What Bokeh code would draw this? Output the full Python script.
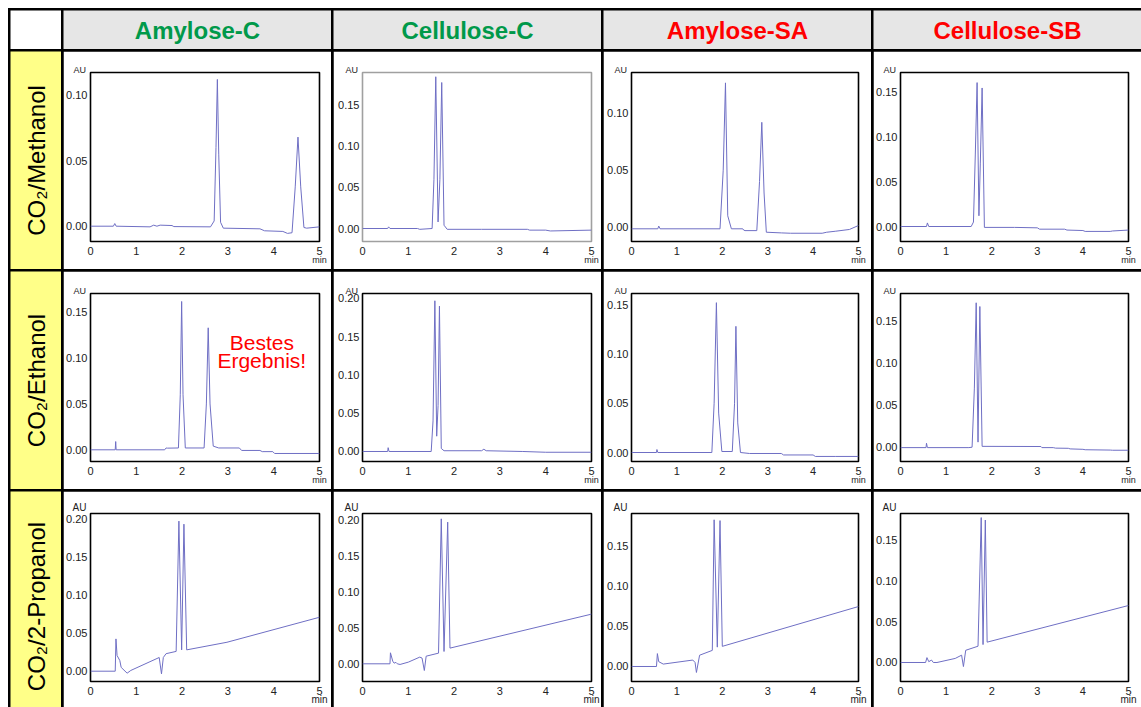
import numpy as np
from bokeh.plotting import figure
from bokeh.models import (Range1d, FixedTicker, PrintfTickFormatter, Label, BoxAnnotation, Spacer,
                          Title, LinearAxis)
from bokeh.layouts import row, column
from bokeh.embed import file_html
from bokeh.resources import INLINE
from bokeh.core.properties import value

# ---------------- data ----------------
column_names = ["Amylose-C", "Cellulose-C", "Amylose-SA", "Cellulose-SB"]
column_colors = ["#00994a", "#00994a", "#ff0000", "#ff0000"]
row_names = ["CO\u2082/Methanol", "CO\u2082/Ethanol", "CO\u2082/2-Propanol"]

x_ticks = [0, 1, 2, 3, 4, 5]

# row 0: CO2/Methanol
t_amyc_meoh = [0, 0.5, 0.53, 0.56, 1.3, 1.38, 1.45, 1.52, 1.78, 1.82, 2.62, 2.7, 2.74, 2.77, 2.8, 2.84, 2.9,
               3.7, 3.8, 4.2, 4.3, 4.4, 4.47, 4.53, 4.59, 4.66, 4.72, 5.0]
au_amyc_meoh = [0, 0, 0.002, 0, -0.0005, 0.0008, 0, 0.0008, 0.0005, -0.0003, -0.0005, 0.004, 0.06, 0.112, 0.055,
                0.003, -0.0015, -0.002, -0.0035, -0.004, -0.0055, -0.005, 0.03, 0.068, 0.03, -0.001, -0.0015, -0.0005]

t_celc_meoh = [0, 0.55, 0.57, 0.6, 1.2, 1.25, 1.52, 1.56, 1.6, 1.65, 1.69, 1.73, 1.78, 1.85, 2.6, 3.6, 3.65, 4.0, 4.1, 5.0]
au_celc_meoh = [0, 0, 0.002, 0, 0, -0.001, 0, 0.06, 0.185, 0.008, 0.06, 0.178, 0.004, -0.001, -0.001, -0.001,
                -0.002, -0.002, -0.003, -0.002]

t_amysa_meoh = [0, 0.58, 0.6, 0.63, 1.95, 2.02, 2.07, 2.12, 2.2, 2.45, 2.47, 2.5, 2.76, 2.82, 2.87, 2.92, 2.97,
                3.3, 3.5, 4.2, 4.3, 4.5, 4.8, 5.0]
au_amysa_meoh = [-0.0014, -0.0014, 0.001, -0.0014, -0.0014, 0.05, 0.1266, 0.01, -0.0014, -0.0014, -0.0025, -0.003,
                 -0.003, 0.04, 0.092, 0.03, -0.0044, -0.005, -0.0053, -0.0053, -0.0044, -0.0035, -0.002, 0.0015]

t_celsb_meoh = [0, 0.57, 0.59, 0.62, 1.55, 1.6, 1.64, 1.68, 1.72, 1.75, 1.79, 1.84, 2.5, 3.0, 3.05, 3.6, 3.65,
                4.0, 4.05, 4.6, 4.65, 5.0]
au_celsb_meoh = [0, 0, 0.004, 0, 0, 0.005, 0.08, 0.161, 0.012, 0.07, 0.155, -0.001, -0.001, -0.0015, -0.003, -0.003,
                 -0.004, -0.0045, -0.0055, -0.0055, -0.005, -0.004]

# row 1: CO2/Ethanol
t_amyc_etoh = [0, 0.54, 0.55, 0.56, 1.62, 1.65, 1.68, 1.92, 1.96, 1.99, 2.02, 2.07, 2.48, 2.53, 2.57, 2.61, 2.68,
               2.8, 3.25, 3.3, 3.7, 3.75, 3.98, 4.02, 5.0]
au_amyc_etoh = [0, 0, 0.009, 0, 0, 0.002, 0.0018, 0.002, 0.06, 0.1617, 0.06, 0.002, 0.002, 0.05, 0.133, 0.05, 0.004,
                0.002, 0.002, -0.0007, -0.0007, -0.002, -0.002, -0.004, -0.004]

t_celc_etoh = [0, 0.55, 0.56, 0.58, 1.5, 1.54, 1.58, 1.62, 1.65, 1.68, 1.72, 1.78, 2.6, 2.65, 2.7, 3.5, 4.0, 5.0]
au_celc_etoh = [0, 0, 0.005, 0, 0, 0.04, 0.197, 0.02, 0.06, 0.19, 0.004, 0.001, 0.001, 0.003, 0.001, 0.0, -0.001, -0.001]

t_amysa_etoh = [0, 0.55, 0.56, 0.58, 1.77, 1.82, 1.87, 1.92, 1.99, 2.22, 2.27, 2.3, 2.34, 2.4, 2.6, 3.3, 3.35,
                4.0, 4.05, 4.5, 5.0]
au_amysa_etoh = [0, 0, 0.003, 0, 0, 0.05, 0.152, 0.04, 0.001, 0.001, 0.05, 0.128, 0.03, 0.0, -0.001, -0.001,
                 -0.0025, -0.0025, -0.004, -0.004, -0.004]

t_celsb_etoh = [0, 0.56, 0.57, 0.59, 1.5, 1.57, 1.62, 1.66, 1.70, 1.74, 1.79, 3.08, 3.1, 3.35, 3.4, 3.68, 3.72,
                4.0, 4.05, 4.6, 4.65, 5.0]
au_celsb_etoh = [-0.0005, -0.0005, 0.0047, -0.0005, -0.0005, 0.0, 0.07, 0.171, 0.006, 0.1666, 0.001, 0.0008, -0.0005,
                 -0.0005, -0.0011, -0.0013, -0.002, -0.0025, -0.003, -0.0034, -0.0036, -0.0036]

# row 2: CO2/2-Propanol
t_amyc_ipa = [0, 0.54, 0.556, 0.58, 0.64, 0.67, 0.8, 0.88, 1.5, 1.55, 1.59, 1.65, 1.87, 1.93, 1.99, 2.04, 2.1, 2.98, 5.0]
au_amyc_ipa = [0, 0, 0.0424, 0.0206, 0.014, 0.005, -0.0026, 0.001, 0.018, -0.0035, 0.018, 0.023, 0.026, 0.197, 0.028,
               0.193, 0.028, 0.038, 0.0708]

t_celc_ipa = [0, 0.6, 0.61, 0.66, 0.69, 0.73, 0.76, 0.82, 1.0, 1.25, 1.3, 1.35, 1.39, 1.66, 1.72, 1.78, 1.86, 1.91, 5.0]
au_celc_ipa = [0, 0, 0.0153, 0.0037, 0.0009, 0.002, 0.0, -0.0009, 0.0023, 0.0093, 0.008, -0.0093, 0.0106, 0.0148,
               0.2014, 0.0171, 0.1968, 0.0218, 0.069]

t_amysa_ipa = [0, 0.55, 0.57, 0.6, 0.7, 1.35, 1.4, 1.43, 1.5, 1.78, 1.82, 1.89, 1.95, 2.0, 5.0]
au_amysa_ipa = [0, 0, 0.016, 0.006, 0.003, 0.008, 0.005, -0.0074, 0.014, 0.02, 0.182, 0.024, 0.181, 0.025, 0.0744]

t_celsb_ipa = [0, 0.55, 0.58, 0.62, 0.68, 0.72, 0.8, 1.2, 1.34, 1.38, 1.43, 1.7, 1.77, 1.81, 1.86, 1.9, 5.0]
au_celsb_ipa = [0, 0, 0.006, 0.001, 0.003, 0.0, 0.0, 0.005, 0.009, -0.005, 0.015, 0.02, 0.178, 0.022, 0.175, 0.025, 0.07]

traces = [
    [(t_amyc_meoh, au_amyc_meoh), (t_celc_meoh, au_celc_meoh), (t_amysa_meoh, au_amysa_meoh), (t_celsb_meoh, au_celsb_meoh)],
    [(t_amyc_etoh, au_amyc_etoh), (t_celc_etoh, au_celc_etoh), (t_amysa_etoh, au_amysa_etoh), (t_celsb_etoh, au_celsb_etoh)],
    [(t_amyc_ipa, au_amyc_ipa), (t_celc_ipa, au_celc_ipa), (t_amysa_ipa, au_amysa_ipa), (t_celsb_ipa, au_celsb_ipa)],
]

y_ranges = [
    [(-0.01168, 0.1173), (-0.01585, 0.1902), (-0.01254, 0.1357), (-0.01678, 0.1723)],
    [(-0.01275, 0.1704), (-0.01307, 0.2065), (-0.00913, 0.1613), (-0.01693, 0.182)],
    [(-0.01352, 0.207), (-0.02458, 0.2088), (-0.01861, 0.1898), (-0.02334, 0.183)],
]
y_ticks = [
    [[0, 0.05, 0.10], [0, 0.05, 0.10, 0.15], [0, 0.05, 0.10], [0, 0.05, 0.10, 0.15]],
    [[0, 0.05, 0.10, 0.15], [0, 0.05, 0.10, 0.15, 0.20], [0, 0.05, 0.10, 0.15], [0, 0.05, 0.10, 0.15]],
    [[0, 0.05, 0.10, 0.15, 0.20], [0, 0.05, 0.10, 0.15, 0.20], [0, 0.05, 0.10, 0.15], [0, 0.05, 0.10, 0.15]],
]

# ---------------- layout / style ----------------
CELL_W = 268
ROW_H = [218, 218, 216]
HEAD_H = 39
ROWHEAD_W = 51
GAP = 2
row_tb = [(21, 28), (22, 28), (22, 26)]          # top / bottom frame borders per row
col_lr = [(27, 12), (29, 10), (28, 13), (26, 13)]  # left / right frame borders per column
outline_colors = [["black", "#a0a0a0", "black", "black"],
                  ["black", "black", "black", "black"],
                  ["black", "black", "black", "black"]]
small_font = ["9px", "9px", "10px"]
small_px = [9, 9, 10]
au_standoff = [-4, -4, 2]
min_standoff = [-3, -3, -4]
row_text_shift = [0, 0, 7]   # px downwards for the row header texts
LINE_COLOR = "#6f6fc4"
FONT = "Liberation Sans"


def text_cell(text, color, w, h, bg, size, bold=False, angle=0.0, shift=0):
    p = figure(width=w, height=h, x_range=Range1d(0, w), y_range=Range1d(0, h),
               output_backend="svg", toolbar_location=None, min_border=0,
               x_axis_location=None, y_axis_location=None,
               background_fill_color=bg, border_fill_color=bg, outline_line_color=None)
    p.grid.visible = False
    if text:
        p.text(x=[w / 2], y=[h / 2], y_offset=shift, text=[text], angle=angle,
               text_align="center", text_baseline="middle",
               text_font=value(FONT), text_font_size=size, text_color=color,
               text_font_style="bold" if bold else "normal")
    return p


def style_axis(ax, size):
    ax.axis_line_color = None
    ax.major_tick_line_color = None
    ax.minor_tick_line_color = None
    ax.major_tick_out = 0
    ax.major_tick_in = 0
    ax.minor_tick_out = 0
    ax.minor_tick_in = 0
    ax.major_label_text_font = FONT
    ax.major_label_text_font_size = size
    ax.major_label_text_color = "#222222"


def chrom_cell(r, c):
    t, au = traces[r][c]
    lo, hi = y_ranges[r][c]
    bl, br = col_lr[c]
    bt, bb = row_tb[r]
    H = ROW_H[r]
    p = figure(width=CELL_W, height=H, x_range=Range1d(0, 5), y_range=Range1d(lo, hi),
               output_backend="svg", toolbar_location=None,
               min_border_left=bl, min_border_right=br, min_border_top=bt, min_border_bottom=bb,
               background_fill_color="white", border_fill_color="white",
               outline_line_color=outline_colors[r][c], outline_line_width=1.6)
    p.grid.visible = False
    p.xaxis.ticker = FixedTicker(ticks=x_ticks)
    p.yaxis.ticker = FixedTicker(ticks=y_ticks[r][c])
    p.yaxis.formatter = PrintfTickFormatter(format="%.2f")
    style_axis(p.xaxis[0], "11px")
    style_axis(p.yaxis[0], "11px")
    p.xaxis.major_label_standoff = 5
    p.yaxis.major_label_standoff = 3
    # unit label under the last x tick
    unit_ax = LinearAxis(ticker=FixedTicker(ticks=[5]), major_label_overrides={5: "min"})
    style_axis(unit_ax, small_font[r])
    unit_ax.major_label_standoff = min_standoff[r]
    p.add_layout(unit_ax, "below")
    # "AU" above the y tick labels
    au_w = int(round(1.39 * small_px[r]))
    p.add_layout(Title(text="AU", align="left", offset=-(au_w + 4), standoff=au_standoff[r],
                       text_font=FONT, text_font_size=small_font[r], text_font_style="normal",
                       text_color="#222222"), "above")
    p.line(t, au, line_color=LINE_COLOR, line_width=1)
    return p


# header row
header_cells = [text_cell(n, col, CELL_W, HEAD_H, "#e6e6e6", "24px", bold=True)
                for n, col in zip(column_names, column_colors)]
data_rows = [row(*header_cells, spacing=GAP)]
for r in range(3):
    cells = []
    for c in range(4):
        p = chrom_cell(r, c)
        if r == 1 and c == 0:
            p.add_layout(BoxAnnotation(left=3, right=266, top=5, bottom=212,
                                       left_units="canvas", right_units="canvas",
                                       top_units="canvas", bottom_units="canvas",
                                       fill_color=None, fill_alpha=0, line_color="#ff0000", line_width=2,
                                       border_radius=10))
            p.add_layout(Label(x=3.74, y=0.117, text="Bestes", text_font=FONT, text_font_size="21px",
                               text_color="#ff0000", text_align="center", text_baseline="middle"))
            p.add_layout(Label(x=3.74, y=0.0975, text="Ergebnis!", text_font=FONT, text_font_size="21px",
                               text_color="#ff0000", text_align="center", text_baseline="middle"))
        cells.append(p)
    data_rows.append(row(*cells, spacing=GAP))

left_cells = [text_cell("", "black", ROWHEAD_W, HEAD_H, "white", "10px")]
for r, rname in enumerate(row_names):
    left_cells.append(text_cell(rname, "black", ROWHEAD_W, ROW_H[r], "#ffff88", "24px",
                                angle=np.pi / 2, shift=row_text_shift[r]))

left_col = column(*left_cells, spacing=GAP)
right_col = column(*data_rows, spacing=GAP)
table = row(left_col, right_col, spacing=GAP,
            styles={"background-color": "black", "padding": "2px 0px 0px 2px"})
root = column(Spacer(width=1141, height=8), row(Spacer(width=8, height=699), table))

open("out.html", "w").write(file_html(root, INLINE))
